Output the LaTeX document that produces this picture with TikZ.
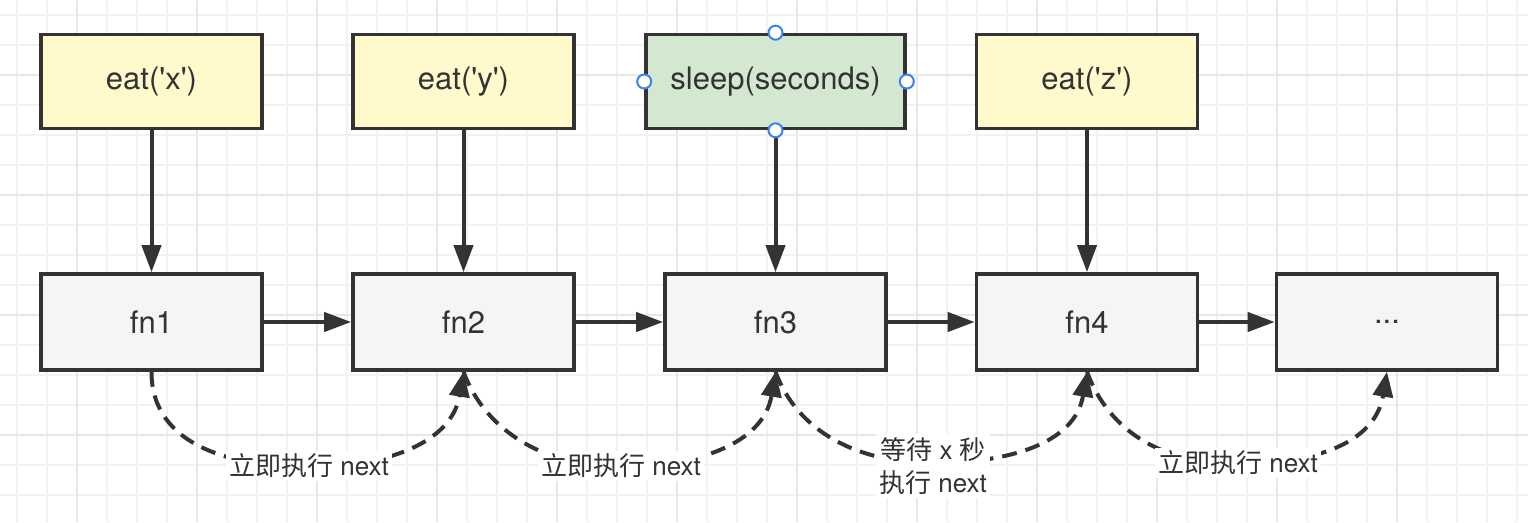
\documentclass[tikz,border=0pt]{standalone}
\usepackage{fontspec}
\setmainfont{TeX Gyre Heros}
\newfontfamily\cjk{Noto Sans CJK SC}
\usetikzlibrary{arrows.meta}
\definecolor{ink}{HTML}{333333}
\definecolor{yel}{HTML}{FFF9CC}
\definecolor{grn}{HTML}{D3E7D1}
\definecolor{gry}{HTML}{F5F5F5}
\definecolor{gridminor}{HTML}{F2F2F2}
\definecolor{gridmajor}{HTML}{E8E8E8}
\definecolor{handlecol}{HTML}{3B82F0}
\begin{document}
\begin{tikzpicture}[x=1pt,y=1pt,
  box/.style={draw=ink, line width=3.6pt, minimum width=221pt, minimum height=94pt,
    inner sep=0pt, text=ink, font=\fontsize{31}{37}\selectfont},
  fnbox/.style={box, fill=gry, minimum height=96pt},
  arr/.style={draw=ink, line width=4pt, -{Triangle[length=27pt,width=19pt]}},
  dcurve/.style={draw=ink, line width=4pt, dash pattern=on 15pt off 9pt,
    -{Triangle[length=25pt,width=20pt]}},
  lbl/.style={fill=white, text=ink, inner xsep=3pt, inner ysep=3pt,
    font=\fontsize{26}{33}\selectfont, align=center},
  handle/.style={circle, draw=handlecol, fill=white, line width=2pt,
    minimum size=14pt, inner sep=0pt}
]
\useasboundingbox (0,0) rectangle (1528,-522);
\fill[white] (0,0) rectangle (1528,-522);
% grid
\foreach \x in {17,47,...,1517} \draw[gridminor, line width=1.2pt] (\x,0) -- (\x,-522);
\foreach \y in {15,45,...,495} \draw[gridminor, line width=1.2pt] (0,-\y) -- (1528,-\y);
\foreach \x in {77,197,...,1397} \draw[gridmajor, line width=1.5pt] (\x,0) -- (\x,-522);
\foreach \y in {75,195,...,435} \draw[gridmajor, line width=1.5pt] (0,-\y) -- (1528,-\y);

% top row
\node[box, fill=yel] (ex) at (151.5,-81.5) {eat(\textquotesingle x\textquotesingle)};
\node[box, fill=yel] (ey) at (463.5,-81.5) {eat(\textquotesingle y\textquotesingle)};
\node[box, fill=grn, minimum width=259pt] (sl) at (775.5,-81.5) {sleep(seconds)};
\node[box, fill=yel] (ez) at (1087,-81.5) {eat(\textquotesingle z\textquotesingle)};

% bottom row
\node[fnbox] (f1) at (151.5,-322) {fn1};
\node[fnbox] (f2) at (463.5,-322) {fn2};
\node[fnbox] (f3) at (775.5,-322) {fn3};
\node[fnbox] (f4) at (1087,-322) {fn4};
\node[fnbox] (f5) at (1387,-322) {...};

% arrows
\draw[arr] (ex) -- (f1);
\draw[arr] (ey) -- (f2);
\draw[arr] (sl) -- (f3);
\draw[arr] (ez) -- (f4);
\draw[arr] (f1) -- (f2);
\draw[arr] (f2) -- (f3);
\draw[arr] (f3) -- (f4);
\draw[arr] (f4) -- (f5);

% curve anchor points
\coordinate (c1) at (309,-467);
\coordinate (c2) at (621,-467);
\coordinate (c3) at (933,-463);
\coordinate (c4) at (1238,-464);

\draw[dcurve] (f1.south) .. controls +(0,-75) and +(-75,0) .. (c1)
  .. controls +(75,0) and +(-12,-72) .. (f2.south);
\draw[dcurve] (f2.south) .. controls +(22,-60) and +(-75,0) .. (c2)
  .. controls +(75,0) and +(-12,-72) .. (f3.south);
\draw[dcurve] (f3.south) .. controls +(22,-60) and +(-75,0) .. (c3)
  .. controls +(75,0) and +(-12,-72) .. (f4.south);
\draw[dcurve] (f4.south) .. controls +(22,-60) and +(-75,0) .. (c4)
  .. controls +(75,0) and +(-12,-72) .. (f5.south);

% labels
\node[lbl] (t1) at (309,-466) {{\cjk 立即执行} next};
\node[lbl] (t2) at (621,-466) {{\cjk 立即执行} next};
\node[lbl] (t3) at (933,-466) {{\cjk 等待} x {\cjk 秒}\\{\cjk 执行} next};
\node[lbl] (t4) at (1238,-463) {{\cjk 立即执行} next};

% selection handles
\node[handle] (hn) at (sl.north) {};
\node[handle] (hs) at (sl.south) {};
\node[handle] (hw) at (sl.west) {};
\node[handle] (he) at (sl.east) {};
\end{tikzpicture}
\end{document}
